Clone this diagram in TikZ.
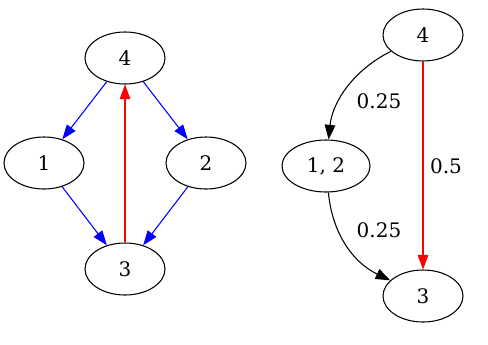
\documentclass[tikz,border=0pt]{standalone}
\usepackage{fontspec}
\setmainfont{DejaVu Serif}
\usepackage{tikz}
\usetikzlibrary{shapes.geometric,arrows.meta}

\begin{document}
\begin{tikzpicture}[
  x=0.75pt, y=-0.75pt,
  every node/.style={font=\fontsize{15}{18}\selectfont},
  >={Triangle[length=11pt,width=8pt]},
  state/.style={draw, ellipse, line width=0.8pt, minimum width=60pt,
    minimum height=39pt, inner sep=0pt},
  link/.style={->, line width=0.8pt}
]
\useasboundingbox (0,0) rectangle (488,344);

% ── Left graph: the four states ───────────────────────────────────────────
\node[state] (l4) at (125,58)  {4};
\node[state] (l1) at (44,163)  {1};
\node[state] (l2) at (206,163) {2};
\node[state] (l3) at (125,269) {3};

\draw[link, blue] (l4) -- (l1);
\draw[link, blue] (l4) -- (l2);
\draw[link, blue] (l1) -- (l3);
\draw[link, blue] (l2) -- (l3);
\draw[link, red]  (l3) -- (l4);

% ── Right graph: 1 and 2 merged ──────────────────────────────────────────
\node[state] (r4)  at (423,35)  {4};
\node[state, minimum width=66pt] (r12) at (326,166) {1, 2};
\node[state] (r3)  at (423,296) {3};

\draw[link] (r4) .. controls (350,72) and (332,105) .. (r12);
\draw[link] (r12) .. controls (332,232) and (352,262) .. (r3);
\draw[link, red] (r4) -- (r3);

% ── Edge weights ─────────────────────────────────────────────────────────
\node (w1) at (379,101) {0.25};
\node (w2) at (446,166) {0.5};
\node (w3) at (379,230) {0.25};

\end{tikzpicture}
\end{document}
